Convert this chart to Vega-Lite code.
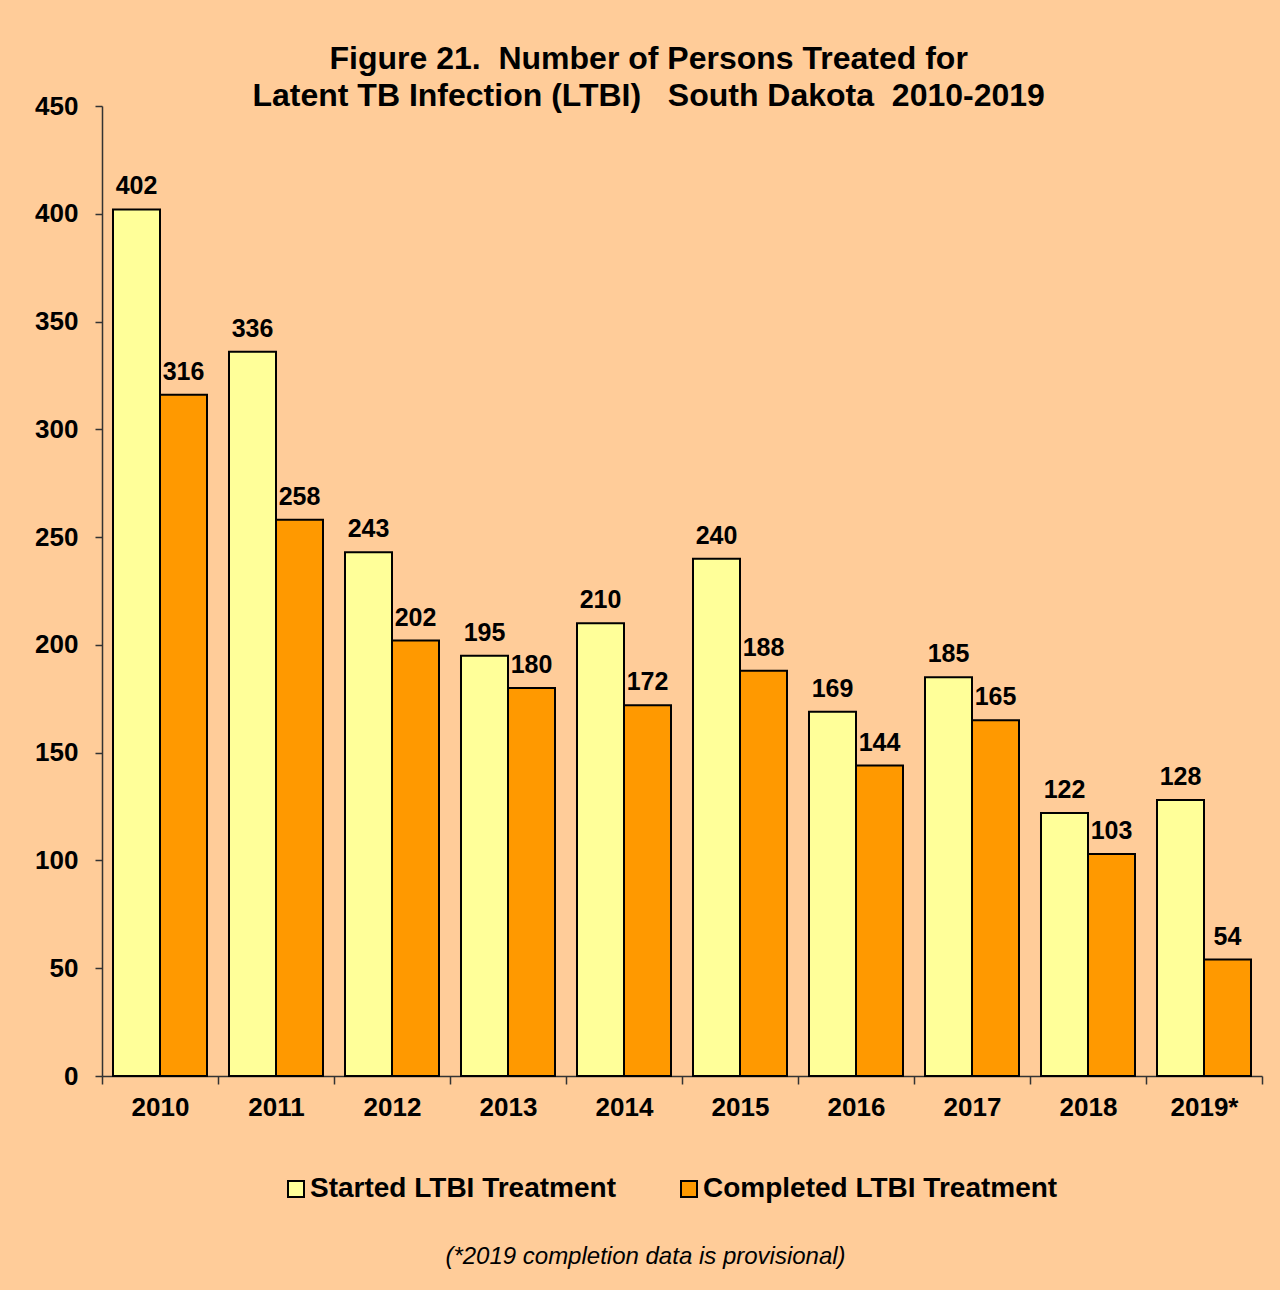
{
  "$schema": "https://vega.github.io/schema/vega-lite/v6.json",
  "autosize": {"type": "none"},
  "width": 1160,
  "height": 970,
  "padding": {"left": 102, "top": 106, "right": 18, "bottom": 214},
  "background": "#FFCC99",
  "title": {
    "text": ["Figure 21.\u00a0 Number of Persons Treated for", "Latent TB Infection (LTBI) \u00a0 South Dakota\u00a0 2010-2019"],
    "frame": "bounds",
    "anchor": "middle",
    "fontSize": 32,
    "fontWeight": "bold",
    "font": "Liberation Sans",
    "color": "#000000",
    "lineHeight": 37,
    "offset": -20
  },
  "data": {
    "values": [
      {"year": "2010", "series": "Started LTBI Treatment", "value": 402},
      {"year": "2010", "series": "Completed LTBI Treatment", "value": 316},
      {"year": "2011", "series": "Started LTBI Treatment", "value": 336},
      {"year": "2011", "series": "Completed LTBI Treatment", "value": 258},
      {"year": "2012", "series": "Started LTBI Treatment", "value": 243},
      {"year": "2012", "series": "Completed LTBI Treatment", "value": 202},
      {"year": "2013", "series": "Started LTBI Treatment", "value": 195},
      {"year": "2013", "series": "Completed LTBI Treatment", "value": 180},
      {"year": "2014", "series": "Started LTBI Treatment", "value": 210},
      {"year": "2014", "series": "Completed LTBI Treatment", "value": 172},
      {"year": "2015", "series": "Started LTBI Treatment", "value": 240},
      {"year": "2015", "series": "Completed LTBI Treatment", "value": 188},
      {"year": "2016", "series": "Started LTBI Treatment", "value": 169},
      {"year": "2016", "series": "Completed LTBI Treatment", "value": 144},
      {"year": "2017", "series": "Started LTBI Treatment", "value": 185},
      {"year": "2017", "series": "Completed LTBI Treatment", "value": 165},
      {"year": "2018", "series": "Started LTBI Treatment", "value": 122},
      {"year": "2018", "series": "Completed LTBI Treatment", "value": 103},
      {"year": "2019*", "series": "Started LTBI Treatment", "value": 128},
      {"year": "2019*", "series": "Completed LTBI Treatment", "value": 54}
    ]
  },
  "encoding": {
    "x": {
      "field": "year",
      "type": "nominal",
      "sort": null,
      "scale": {"paddingInner": 0, "paddingOuter": 0},
      "axis": {
        "title": "(*2019 completion data is provisional)",
        "titleFontSize": 24,
        "titleFontStyle": "italic",
        "titleFontWeight": "normal",
        "titleFont": "Liberation Sans",
        "titleColor": "#000000",
        "titleX": 543,
        "titleY": 187,
        "titleBaseline": "alphabetic",
        "titleAnchor": "middle",
        "titleAlign": "center",
        "labelAngle": 0,
        "labelFontSize": 26,
        "labelFontWeight": "bold",
        "labelFont": "Liberation Sans",
        "labelColor": "#000000",
        "labelPadding": 10,
        "tickBand": "extent",
        "tickSize": 8,
        "tickColor": "#333333",
        "domainColor": "#333333",
        "domainWidth": 1.5,
        "tickWidth": 1.5
      }
    },
    "xOffset": {
      "field": "series",
      "type": "nominal",
      "sort": ["Started LTBI Treatment", "Completed LTBI Treatment"],
      "scale": {"paddingInner": 0, "paddingOuter": 0.234}
    },
    "y": {
      "field": "value",
      "type": "quantitative",
      "scale": {"domain": [0, 450], "nice": false},
      "axis": {
        "title": null,
        "values": [0, 50, 100, 150, 200, 250, 300, 350, 400, 450],
        "grid": false,
        "labelFontSize": 26,
        "labelFontWeight": "bold",
        "labelFont": "Liberation Sans",
        "labelColor": "#000000",
        "labelPadding": 17,
        "tickSize": 7,
        "tickColor": "#333333",
        "domainColor": "#333333",
        "domainWidth": 1.5,
        "tickWidth": 1.5
      }
    }
  },
  "layer": [
    {
      "mark": {"type": "bar", "stroke": "#000000", "strokeWidth": 2},
      "encoding": {
        "color": {
          "field": "series",
          "type": "nominal",
          "scale": {"domain": ["Started LTBI Treatment", "Completed LTBI Treatment"], "range": ["#FFFF99", "#FF9900"]},
          "legend": {
            "title": null,
            "orient": "none",
            "direction": "horizontal",
            "legendX": 180,
            "legendY": 1069,
            "symbolType": "square",
            "symbolSize": 256,
            "symbolStrokeColor": "#000000",
            "symbolStrokeWidth": 2,
            "symbolOpacity": 1,
            "labelFontSize": 28,
            "labelFontWeight": "bold",
            "labelFont": "Liberation Sans",
            "labelColor": "#000000",
            "labelOffset": 0,
            "columnPadding": 59,
            "padding": 0,
            "labelLimit": 600
          }
        }
      }
    },
    {
      "mark": {"type": "text", "baseline": "alphabetic", "dy": -15, "fontSize": 25, "fontWeight": "bold", "font": "Liberation Sans", "color": "#000000"},
      "encoding": {"text": {"field": "value", "type": "quantitative"}}
    }
  ],
  "config": {"view": {"stroke": null}}
}
